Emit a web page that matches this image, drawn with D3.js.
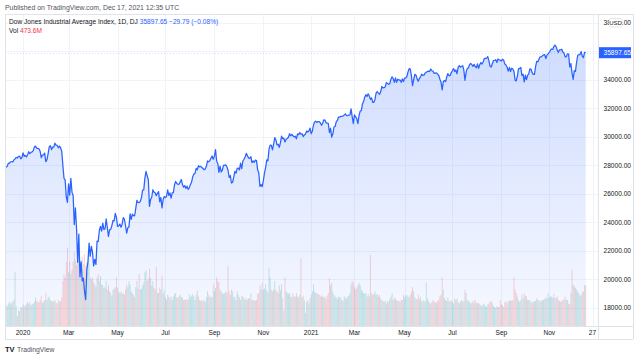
<!DOCTYPE html>
<html><head><meta charset="utf-8">
<script src="https://cdn.jsdelivr.net/npm/d3@7"></script>
<style>body{margin:0;background:#fff}svg{display:block}text{font-family:"Liberation Sans",Arial,sans-serif}</style>
</head><body><svg id="c" width="639" height="358"></svg>
<script>
// ---------- DATA ----------
const startDate = "2019-12-09";
const holidays = ["2019-12-25","2020-01-01","2020-01-20","2020-02-17","2020-04-10","2020-05-25","2020-07-03","2020-09-07","2020-11-26","2020-12-25","2021-01-01","2021-01-18","2021-02-15","2021-04-02","2021-05-31","2021-07-05","2021-09-06","2021-11-25","2021-12-24"];
const closes = [
// Dec 2019
27910,27882,27911,28132,28135,28236,28267,28239,28377,28455,28552,28515,28621,28645,28462,28538,
// 2020
28869,28635,28703,28584,28745,28957,28824,28907,28940,29030,29298,29348,29196,29186,29160,28990,28536,28723,28734,28859,28256,
28400,28808,29291,29380,29103,29277,29276,29551,29423,29398,29232,29348,29220,28992,27961,27081,26958,25767,25409,
26703,25917,27091,26121,25865,23851,25018,23553,21201,23186,20189,21237,19899,20087,19174,18592,20705,21201,22552,21637,22327,21917,
20944,21413,21053,22680,22654,23434,23719,23391,23950,23504,23538,24242,23650,23019,23476,23515,23775,24134,24102,24634,24346,
23724,23750,23883,23665,23876,24331,24222,23765,23248,23625,23685,24597,24207,24576,24474,24465,24995,25548,25401,25383,
25475,25743,26270,26282,27111,27572,27272,26990,25128,25606,25763,26290,26120,26080,25871,26025,26156,25446,25746,25016,25596,25813,
25735,25827,26287,25890,26067,25706,26075,26086,26643,26870,26735,26672,26681,26840,27006,26652,26470,26585,26379,26540,26314,26428,
26664,26828,27202,27387,27433,27791,27687,27977,27897,27931,27845,27778,27693,27740,27930,28308,28248,28332,28492,28654,28430,
28646,29101,28293,28133,27501,27940,27535,27666,27993,27996,28032,27902,27657,27148,27288,26763,26815,27174,27584,27453,27782,
27817,27683,28149,27773,28303,28426,28587,28838,28680,28514,28494,28606,28195,28309,28211,28364,28336,27685,27463,26520,26659,26502,
26925,27480,27848,28390,28323,29158,29421,29398,29080,29480,29950,29783,29438,29483,29263,29591,30046,29872,29910,29639,
29824,29884,29970,30218,30070,30174,30069,29999,30046,29862,30199,30155,30303,30179,30216,30016,30130,30200,30404,30336,30410,30606,
// 2021
30224,30392,30829,31041,31098,31009,31069,31060,30992,30814,30931,31188,31176,30997,30960,30937,30303,30603,29983,
30212,30687,30724,31056,31148,31386,31376,31438,31431,31458,31523,31613,31493,31494,31522,31537,31962,31402,30932,
31536,31392,31270,30924,31496,31802,31833,32297,32486,32779,32953,32826,33015,32862,32628,32731,32423,32420,32619,33073,33171,33067,32982,
33153,33527,33430,33446,33504,33801,33745,33677,33731,34036,34201,34078,33821,34137,33816,34043,33982,33985,33820,34060,33875,
34113,34133,34230,34549,34778,34743,34269,33588,34021,34382,34328,34061,33896,34084,34208,34394,34312,34323,34465,34529,
34575,34600,34577,34756,34630,34600,34447,34466,34480,34394,34299,34034,33823,33290,33877,33946,33874,34197,34434,34283,34292,34503,
34634,34786,34577,34682,34422,34870,34996,34889,34933,34987,34688,33962,34512,34798,34823,35062,35144,35059,34931,35085,34935,
34838,35116,34793,35064,35209,35102,35265,35485,35500,35515,35625,35343,34961,34894,35120,35336,35366,35406,35213,35456,35400,35361,
35313,35444,35369,35100,35031,34879,34608,34870,34578,34814,34751,34585,33970,33920,34258,34765,34798,34869,34300,34391,33844,
34326,34003,34315,34417,34755,34746,34496,34378,34378,34913,35295,35259,35457,35609,35603,35677,35741,35757,35491,35730,35820,
35914,36053,36158,36124,36328,36432,36320,36080,35921,36100,36087,36142,35931,35871,35602,35619,35814,35804,34899,35136,34484,
34022,34640,34580,35227,35719,35754,35755,35971,35651,35544,35927,35897.65
];
// volume in millions
const volumes = [
250,240,230,260,280,250,270,280,300,620,230,120,180,170,220,210,
250,220,240,250,280,260,270,240,250,260,280,330,290,280,270,300,350,270,280,300,380,
300,330,340,300,290,280,290,300,270,260,300,280,290,330,520,600,560,740,900,
620,740,600,650,740,850,760,700,840,780,730,760,800,720,830,700,740,760,720,560,540,560,
500,480,450,560,600,520,580,480,470,440,450,520,420,470,400,380,350,420,430,450,560,
440,400,380,400,370,380,360,420,480,450,520,480,400,380,360,330,450,520,430,600,
420,430,470,500,620,640,520,540,660,560,470,520,440,420,680,380,380,440,420,580,380,420,
330,300,360,340,320,340,300,340,370,380,330,330,340,360,330,330,300,300,310,300,310,370,
330,350,370,340,300,360,410,340,300,290,300,290,300,280,330,400,360,330,340,330,480,
400,440,560,520,500,420,400,380,370,380,400,380,690,400,360,420,400,330,340,300,400,
360,330,300,350,340,320,300,320,300,320,320,380,300,300,300,290,300,370,380,470,420,500,
420,430,480,410,390,670,560,420,400,420,520,410,400,380,470,410,480,320,180,560,
400,380,370,380,340,330,380,340,340,380,340,330,360,780,330,350,300,150,280,300,260,320,
360,400,480,400,380,380,370,360,340,360,340,330,340,310,350,380,550,470,500,
400,360,340,330,310,340,330,330,300,290,340,330,310,340,350,380,480,520,500,
450,420,440,470,500,470,420,400,380,370,380,340,370,340,820,380,360,370,400,360,370,340,360,
320,300,290,280,290,260,290,280,310,340,380,300,330,310,300,290,290,280,300,300,360,
330,350,360,340,330,360,400,450,400,330,310,310,360,310,340,280,300,290,280,500,
320,290,270,260,280,300,280,270,270,290,300,340,360,560,420,320,300,290,330,290,280,300,
280,260,320,300,320,280,260,280,300,280,290,420,380,300,290,280,260,270,290,270,300,
270,260,270,250,240,230,260,250,230,220,250,260,280,290,260,230,220,210,230,220,220,300,
250,240,220,280,280,260,290,290,300,290,300,560,420,380,340,300,280,300,360,320,380,
350,340,300,300,300,280,270,280,290,290,320,300,300,280,290,300,300,310,330,320,380,
330,340,340,330,370,320,330,340,300,290,280,290,300,310,340,300,300,260,250,380,650,
480,460,440,420,400,380,350,360,390,400,470,473.6
];
const priceTicks = [18000,20000,22000,24000,26000,28000,30000,32000,34000,36000,38000];
const hiddenPriceLabels = [36000]; // covered by the last-price badge in the original
const timeTickDates = ["2020-01-02","2020-03-02","2020-05-01","2020-07-01","2020-09-01","2020-11-02","2021-01-04","2021-03-01","2021-05-03","2021-07-01","2021-09-01","2021-11-01","2021-12-27"];
const timeTickLabels = ["2020","Mar","May","Jul","Sep","Nov","2021","Mar","May","Jul","Sep","Nov","27"];
const title = "Dow Jones Industrial Average Index, 1D, DJ";
const lastText = "35897.65";
const changeText = "\u221229.79 (\u22120.08%)";
const volText = "473.6M";

// ---------- TRADING DAYS ----------
const days = [];
{
  const hs = new Set(holidays);
  let d = new Date(startDate + "T00:00:00Z");
  while (days.length < closes.length + 12) {
    const wd = d.getUTCDay(), s = d.toISOString().slice(0, 10);
    if (wd !== 0 && wd !== 6 && !hs.has(s)) days.push(s);
    d = new Date(d.getTime() + 86400000);
  }
}
const dayIndex = new Map(days.map((s, i) => [s, i]));
const data = closes.map((c, i) => ({ i, c, v: volumes[i], up: i === 0 ? true : c >= closes[i - 1] }));

// ---------- LAYOUT ----------
const L = 5, R = 598, T = 14, B = 326, AXB = 339, FR = 633;
const svg = d3.select("#c");
const x = d3.scaleLinear().domain([0, 510]).range([4.8, 585.7]);
const y = d3.scaleLinear().domain([18000, 38000]).range([308, 22.7]);
const yv = d3.scaleLinear().domain([0, 3600]).range([B, T]);

const defs = svg.append("defs");
defs.append("clipPath").attr("id", "clip").append("rect").attr("x", L).attr("y", T).attr("width", R - L).attr("height", B - T);
const g = defs.append("linearGradient").attr("id", "grad").attr("gradientUnits", "userSpaceOnUse")
  .attr("x1", 0).attr("x2", 0).attr("y1", T).attr("y2", B);
g.append("stop").attr("offset", 0).attr("stop-color", "#2962ff").attr("stop-opacity", 0.24);
g.append("stop").attr("offset", 1).attr("stop-color", "#2962ff").attr("stop-opacity", 0.04);

// grid
const grid = svg.append("g").attr("stroke", "#f0f3fa").attr("stroke-width", 1);
priceTicks.forEach(p => grid.append("line").attr("x1", L).attr("x2", R).attr("y1", Math.round(y(p)) + 0.5).attr("y2", Math.round(y(p)) + 0.5));
timeTickDates.forEach(s => { const xx = Math.round(x(dayIndex.get(s))) + 0.5; grid.append("line").attr("x1", xx).attr("x2", xx).attr("y1", T).attr("y2", B); });

const plot = svg.append("g").attr("clip-path", "url(#clip)");
// volume
const bw = (x(1) - x(0)) * 0.8;
plot.append("g").selectAll("rect").data(data).join("rect")
  .attr("x", d => x(d.i) - bw / 2).attr("width", bw)
  .attr("y", d => yv(d.v)).attr("height", d => B - yv(d.v))
  .attr("fill", d => d.up ? "rgba(38,166,154,0.28)" : "rgba(239,83,80,0.28)");
// area
plot.append("path").datum(data).attr("fill", "url(#grad)")
  .attr("d", d3.area().x(d => x(d.i)).y0(B).y1(d => y(d.c)));
// line
plot.append("path").datum(data).attr("fill", "none").attr("stroke", "#2962ff").attr("stroke-width", 1.25).attr("stroke-linejoin", "round")
  .attr("d", d3.line().x(d => x(d.i)).y(d => y(d.c)));
// last price dotted line
const last = data[data.length - 1];
svg.append("line").attr("x1", L).attr("x2", R).attr("y1", Math.round(y(last.c)) + 0.5).attr("y2", Math.round(y(last.c)) + 0.5)
  .attr("stroke", "#2962ff").attr("stroke-opacity", 0.22).attr("stroke-dasharray", "1,2");

// frame
const fr = svg.append("g").attr("stroke", "#e0e3eb").attr("fill", "none");
fr.append("line").attr("x1", L).attr("x2", FR).attr("y1", T + 0.5).attr("y2", T + 0.5);
fr.append("line").attr("x1", L).attr("x2", FR).attr("y1", B + 0.5).attr("y2", B + 0.5);
fr.append("line").attr("x1", L).attr("x2", FR).attr("y1", AXB + 0.5).attr("y2", AXB + 0.5);
fr.append("line").attr("x1", L + 0.5).attr("x2", L + 0.5).attr("y1", T).attr("y2", AXB);
fr.append("line").attr("x1", R + 0.5).attr("x2", R + 0.5).attr("y1", T).attr("y2", AXB);
fr.append("line").attr("x1", FR + 0.5).attr("x2", FR + 0.5).attr("y1", T).attr("y2", AXB);

// price axis labels
svg.append("g").selectAll("text").data(priceTicks.filter(p => !hiddenPriceLabels.includes(p))).join("text")
  .attr("x", 631).attr("y", p => y(p) + 2.3).attr("text-anchor", "end")
  .attr("font-size", 6.6).attr("fill", "#131722").text(p => p.toFixed(2));
// USD badge
svg.append("rect").attr("x", 609).attr("y", 18.5).attr("width", 13).attr("height", 8.5).attr("rx", 2)
  .attr("fill", "#fff").attr("stroke", "#d1d4dc").attr("stroke-width", 0.6);
svg.append("text").attr("x", 615.5).attr("y", 25).attr("text-anchor", "middle").attr("font-size", 6).attr("fill", "#131722").text("USD");
// last price badge
const ly = y(last.c);
svg.append("rect").attr("x", R + 1).attr("y", ly - 5.5).attr("width", 32).attr("height", 11).attr("fill", "#2962ff");
svg.append("text").attr("x", 631).attr("y", ly + 2.4).attr("text-anchor", "end").attr("font-size", 6.6).attr("fill", "#fff").text(lastText);

// time axis labels
svg.append("g").selectAll("text").data(timeTickDates).join("text")
  .attr("x", (s) => x(dayIndex.get(s))).attr("y", 335).attr("text-anchor", "middle")
  .attr("font-size", 6.6).attr("fill", "#131722").text((s, i) => timeTickLabels[i]);

// header & legend
svg.append("text").attr("x", 5).attr("y", 9.5).attr("font-size", 6.9).attr("fill", "#50535e").text("Published on TradingView.com, Dec 17, 2021 12:35 UTC");
const lg = svg.append("text").attr("x", 9).attr("y", 23.5).attr("font-size", 6.6);
lg.append("tspan").attr("fill", "#131722").text(title + "  ");
lg.append("tspan").attr("fill", "#2962ff").text(lastText + "  " + changeText);
const vg = svg.append("text").attr("x", 9).attr("y", 32.5).attr("font-size", 6.6);
vg.append("tspan").attr("fill", "#131722").text("Vol  ");
vg.append("tspan").attr("fill", "#f23645").text(volText);

// footer logo
svg.append("text").attr("x", 5).attr("y", 352).attr("font-size", 7.5).attr("font-weight", "bold").attr("fill", "#131722").text("TV");
svg.append("text").attr("x", 17).attr("y", 352).attr("font-size", 6.8).attr("fill", "#50535e").text("TradingView");
</script></body></html>
